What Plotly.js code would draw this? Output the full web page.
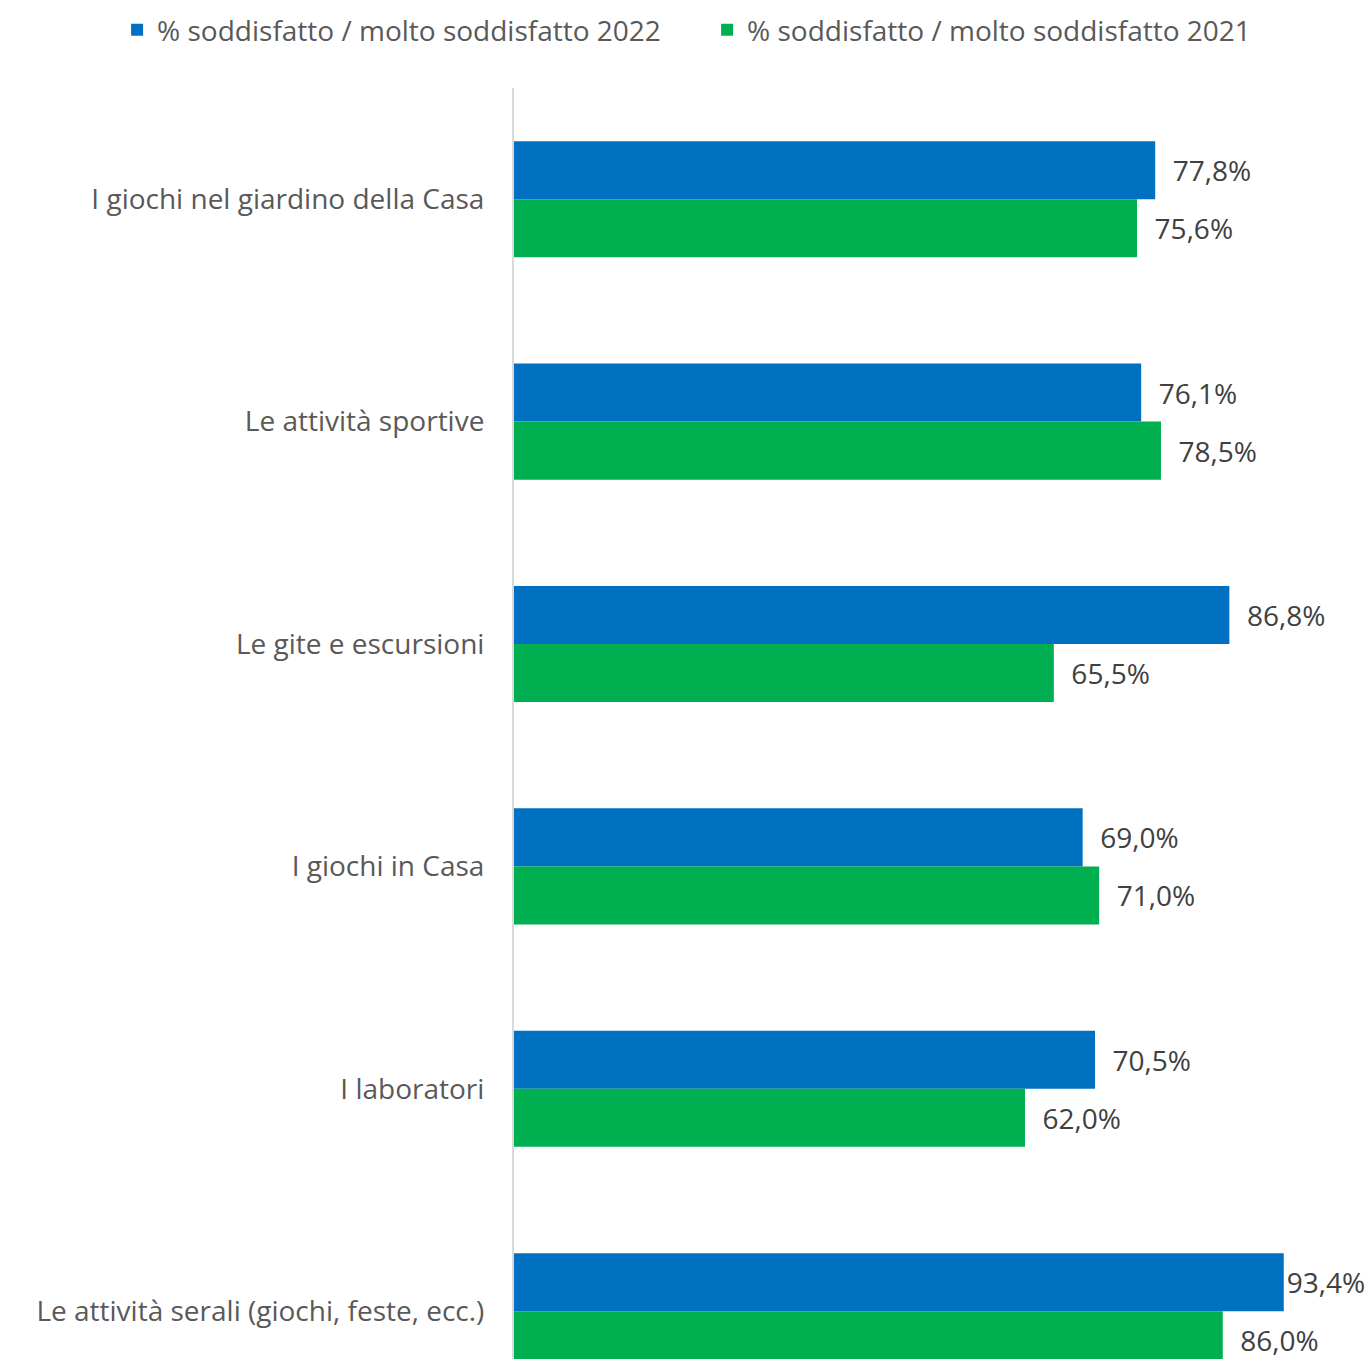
<!DOCTYPE html>
<html>
<head>
<meta charset="utf-8">
<script src="https://cdn.plot.ly/plotly-3.0.1.min.js"></script>
<style>html,body{margin:0;padding:0;background:#fff;}#chart{width:1367px;height:1359px;}</style>
</head>
<body>
<div id="chart"></div>
<script>
const categories = [
  "I giochi nel giardino della Casa",
  "Le attività sportive",
  "Le gite e escursioni",
  "I giochi in Casa",
  "I laboratori",
  "Le attività serali (giochi, feste, ecc.)"
];
const seriesNames = ["% soddisfatto / molto soddisfatto 2022", "% soddisfatto / molto soddisfatto 2021"];
const values2022 = [77.8, 76.1, 86.8, 69.0, 70.5, 93.4];
const values2021 = [75.6, 78.5, 65.5, 71.0, 62.0, 86.0];

const FONT = "Open Sans, sans-serif";
const mk = (name, vals, color) => ({
  type: "bar",
  orientation: "h",
  name: name,
  x: vals,
  y: categories,
  marker: {color: color},
  texttemplate: vals.map(v => v > 90 ? "%{x:.1f}%" : "\u00a0\u00a0%{x:.1f}%"),
  textposition: "outside",
  constraintext: "none",
  cliponaxis: false,
  textfont: {family: FONT, size: 28, color: "#404040"},
  hoverinfo: "skip"
});

const data = [
  mk(seriesNames[0], values2022, "#0070C0"),
  mk(seriesNames[1], values2021, "#00B050")
];

const layout = {
  width: 1367,
  height: 1359,
  margin: {l: 514, r: 0, t: 88, b: 0, pad: 0, autoexpand: false},
  separators: ",.",
  paper_bgcolor: "#ffffff",
  plot_bgcolor: "#ffffff",
  barmode: "group",
  bargap: 0.478,
  bargroupgap: 0,
  font: {family: FONT, color: "#595959"},
  showlegend: true,
  legend: {
    orientation: "h",
    xref: "paper",
    x: -0.4653,
    xanchor: "left",
    yref: "paper",
    y: 1.0456,
    yanchor: "middle",
    entrywidth: 545,
    entrywidthmode: "pixels",
    font: {family: FONT, size: 28, color: "#595959"},
    traceorder: "normal"
  },
  xaxis: {
    range: [0, 103.5],
    automargin: false,
    showgrid: false,
    zeroline: false,
    showticklabels: false,
    showline: false,
    fixedrange: true
  },
  yaxis: {
    type: "category",
    range: [5.215, -0.5],
    automargin: false,
    showline: true,
    linecolor: "#d9d9d9",
    linewidth: 2,
    ticks: "",
    ticklabelstandoff: 22,
    tickfont: {family: FONT, size: 28, color: "#595959"},
    showgrid: false,
    zeroline: false
  }
};

Plotly.newPlot("chart", data, layout, {displayModeBar: false, staticPlot: true});
</script>
</body>
</html>
